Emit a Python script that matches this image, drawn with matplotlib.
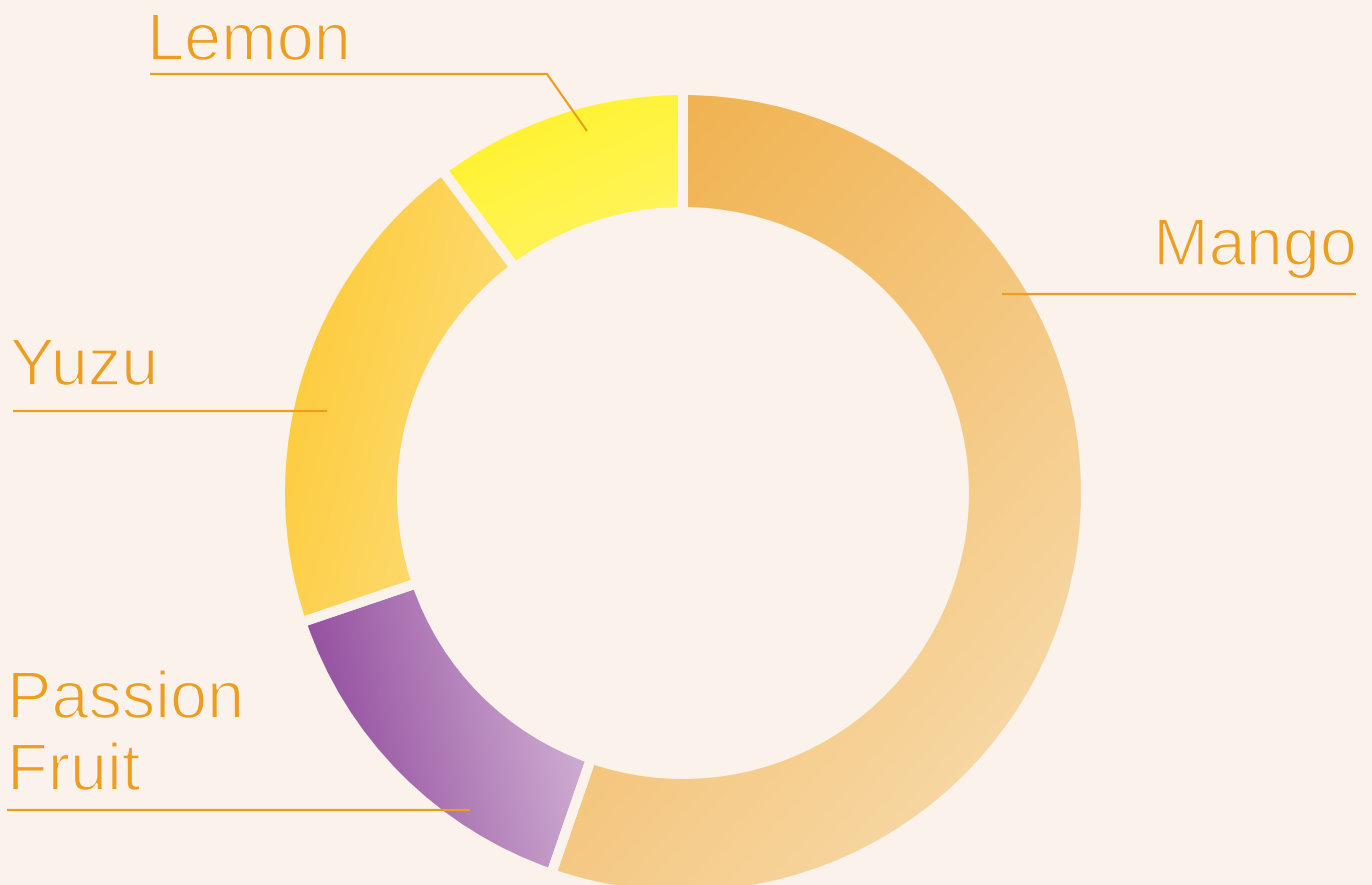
import numpy as np
import matplotlib
matplotlib.use("Agg")
import matplotlib.pyplot as plt
import matplotlib.patheffects as pe
from matplotlib.colors import to_rgb

# ---- data ----
labels = ["Mango", "Passion Fruit", "Yuzu", "Lemon"]
values = [55.3, 14.5, 20.0, 10.2]
grad_start = ["#F0AD43", "#883C95", "#FDC82B", "#FFF21F"]
grad_end = ["#F9E0B8", "#F2E6F0", "#FEEBB2", "#FFF7A8"]
grad_angle = [-40, 12, -15, -65]  # direction of lightening, degrees

# ---- layout (pixel coordinates, image origin top-left) ----
W_PX, H_PX = 1372, 885
BG = "#FBF2EC"
TXT = "#EE9E1E"
cx, cy_img = 683, 493
R_OUT, R_IN = 403, 281
GAP_PT = 7.2

label_pos = {  # text anchor x, first baseline y (img), ha
    "Mango": (1357, 265, "right"),
    "Passion Fruit": (7, 718, "left"),
    "Yuzu": (10, 385, "left"),
    "Lemon": (147, 60, "left"),
}
leaders = {
    "Mango": [(1356, 294), (1002, 294)],
    "Passion Fruit": [(7, 810), (470, 810)],
    "Yuzu": [(13, 411), (327, 411)],
    "Lemon": [(150, 74), (547, 74), (587, 131)],
}

def Y(y):
    return H_PX - y

plt.rcParams["font.family"] = ["Liberation Sans", "DejaVu Sans"]

fig = plt.figure(figsize=(W_PX / 100, H_PX / 100), dpi=100, facecolor=BG)
ax = fig.add_axes([0, 0, 1, 1])
ax.set_facecolor(BG)

wedges, _ = ax.pie(values, startangle=90, counterclock=False,
                   radius=R_OUT, center=(cx, Y(cy_img)),
                   wedgeprops=dict(width=R_OUT - R_IN, edgecolor=BG,
                                   linewidth=GAP_PT, facecolor="none"),
                   frame=False)

for w, c0, c1, ang in zip(wedges, grad_start, grad_end, grad_angle):
    w.set_facecolor("none")
    w.set_zorder(3)
    verts = w.get_path().vertices
    x0, y0 = verts.min(axis=0)
    x1, y1 = verts.max(axis=0)
    nx, ny = 300, 300
    xs = np.linspace(x0, x1, nx)
    ys = np.linspace(y0, y1, ny)
    XX, YY = np.meshgrid(xs, ys)
    d = np.array([np.cos(np.radians(ang)), np.sin(np.radians(ang))])
    p = XX * d[0] + YY * d[1]
    t = (p - p.min()) / (p.max() - p.min())
    a, b = np.array(to_rgb(c0)), np.array(to_rgb(c1))
    img = a[None, None, :] * (1 - t[..., None]) + b[None, None, :] * t[..., None]
    im = ax.imshow(img, extent=(x0, x1, y0, y1), origin="lower",
                   interpolation="bilinear", zorder=2, aspect="auto")
    im.set_clip_path(w)

thin = [pe.Stroke(linewidth=1.3, foreground=BG)]
for lab in labels:
    x, yb, ha = label_pos[lab]
    lines = lab.split(" ")
    for i, line in enumerate(lines):
        ax.text(x, Y(yb + i * 72), line, ha=ha, va="baseline",
                fontsize=48, fontweight="normal", color=TXT, zorder=5,
                path_effects=thin)
    pts = leaders[lab]
    ax.plot([p[0] for p in pts], [Y(p[1]) for p in pts], color=TXT,
            lw=1.6, zorder=4, solid_capstyle="butt")

ax.set_aspect("auto")
ax.set_xlim(0, W_PX)
ax.set_ylim(0, H_PX)
ax.axis("off")
fig.savefig("out.png", dpi=100, facecolor=BG)
